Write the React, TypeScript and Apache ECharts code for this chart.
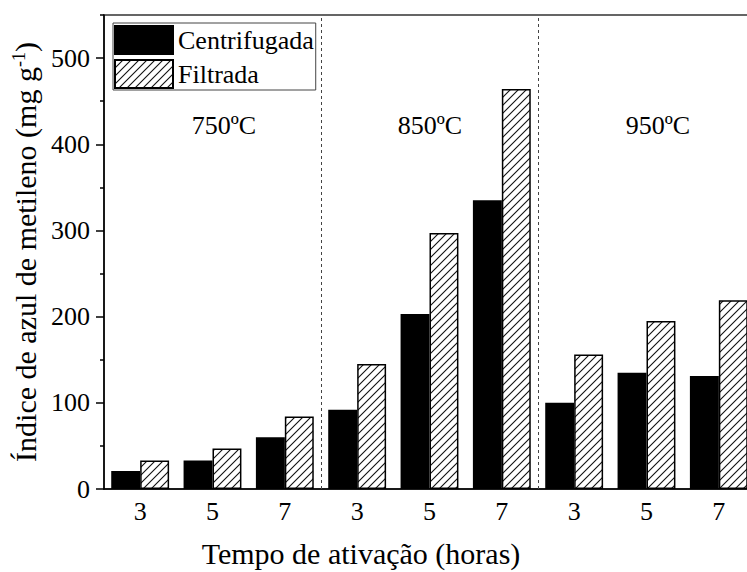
import React, { useEffect, useRef } from "react";
import * as echarts from "echarts";

// Activation time (hours) for each temperature group
const categories = ["3", "5", "7", "3", "5", "7", "3", "5", "7"];
const temperatures = ["750ºC", "850ºC", "950ºC"];
const centrifugada = [21, 33, 60, 92, 203, 335, 100, 135, 131];
const filtrada = [33, 47, 84, 145, 297, 464, 156, 195, 219];
const yMajor = [0, 100, 200, 300, 400, 500];
const yMinor = [50, 150, 250, 350, 450, 550];
const groupBounds = [3, 6];

const SERIF = "'Liberation Serif', 'Times New Roman', serif";

function makeHatch(): HTMLCanvasElement {
  const s = 8;
  const c = document.createElement("canvas");
  c.width = s;
  c.height = s;
  const ctx = c.getContext("2d")!;
  ctx.fillStyle = "#fff";
  ctx.fillRect(0, 0, s, s);
  ctx.strokeStyle = "#111";
  ctx.lineWidth = 1.1;
  ctx.beginPath();
  ctx.moveTo(-1, s + 1);
  ctx.lineTo(s + 1, -1);
  ctx.moveTo(-2, 2);
  ctx.lineTo(2, -2);
  ctx.moveTo(s - 2, s + 2);
  ctx.lineTo(s + 2, s - 2);
  ctx.stroke();
  return c;
}

export default function App() {
  const ref = useRef<HTMLDivElement>(null);

  useEffect(() => {
    if (!ref.current) return;
    const chart = echarts.init(ref.current, undefined, { renderer: "svg" });
    const hatch = { image: makeHatch(), repeat: "repeat" };
    const gridLeft = 104;
    const gridTop = 15;
    const gridWidth = 651;
    const gridBottom = 83;

    const tempLabelX = [224, 430, 658];

    chart.setOption({
      animation: false,
      backgroundColor: "#fff",
      textStyle: { fontFamily: SERIF },
      grid: {
        left: gridLeft,
        top: gridTop,
        width: gridWidth,
        bottom: gridBottom,
        show: true,
        borderColor: "#333",
        borderWidth: 1.5,
        backgroundColor: "transparent",
      },
      legend: {
        orient: "vertical",
        left: 113,
        top: 23,
        data: ["Centrifugada", "Filtrada"],
        itemWidth: 58,
        itemHeight: 28,
        itemGap: 4,
        padding: [2, 2, 1, 1],
        borderColor: "#444",
        borderWidth: 1,
        icon: "rect",
        textStyle: { fontFamily: SERIF, fontSize: 26, color: "#000", padding: [0, 0, 0, 0] },
      },
      xAxis: [
        {
          type: "category",
          data: categories,
          axisLine: { lineStyle: { color: "#000", width: 1.5 } },
          axisTick: { alignWithLabel: true, length: 9, lineStyle: { color: "#000", width: 1.5 } },
          axisLabel: { fontFamily: SERIF, fontSize: 26, color: "#000", margin: 9 },
          splitLine: { show: false },
        },
        {
          type: "category",
          data: categories,
          position: "bottom",
          axisLine: { show: false },
          axisTick: { alignWithLabel: false, length: 5, lineStyle: { color: "#000", width: 1.5 } },
          axisLabel: { show: false },
          splitLine: { show: false },
        },
        {
          type: "value",
          min: 0,
          max: 9,
          show: false,
        },
      ],
      yAxis: [
        {
          type: "value",
          min: 0,
          max: 550,
          interval: 100,
          name: "Índice de azul de metileno (mg g{sup|-1})",
          nameLocation: "middle",
          nameGap: 57,
          nameTextStyle: {
            fontFamily: SERIF,
            fontSize: 30,
            color: "#000",
            rich: {
              sup: { fontFamily: SERIF, fontSize: 18, color: "#000", verticalAlign: "top", lineHeight: 30 },
            },
          },
          axisLine: { show: true, lineStyle: { color: "#000", width: 1.5 } },
          axisTick: { show: true, length: 8, customValues: yMajor, lineStyle: { color: "#000", width: 1.5 } },
          axisLabel: { fontFamily: SERIF, fontSize: 26, color: "#000", margin: 14, customValues: yMajor },
          splitLine: { show: false },
        },
        {
          type: "value",
          min: 0,
          max: 550,
          interval: 50,
          position: "left",
          axisLine: { show: false },
          axisTick: { show: true, length: 4, customValues: yMinor, lineStyle: { color: "#000", width: 1.5 } },
          axisLabel: { show: false },
          splitLine: { show: false },
        },
      ],
      series: [
        {
          name: "Centrifugada",
          type: "bar",
          xAxisIndex: 0,
          yAxisIndex: 0,
          data: centrifugada,
          barGap: "0%",
          barCategoryGap: "20%",
          itemStyle: { color: "#000", borderColor: "#000", borderWidth: 1.5 },
        },
        {
          name: "Filtrada",
          type: "bar",
          xAxisIndex: 0,
          yAxisIndex: 0,
          data: filtrada,
          barGap: "0%",
          barCategoryGap: "20%",
          itemStyle: { color: hatch, borderColor: "#000", borderWidth: 1.5 },
        },
        {
          name: "separadores",
          type: "line",
          xAxisIndex: 2,
          yAxisIndex: 0,
          data: [],
          silent: true,
          markLine: {
            silent: true,
            symbol: "none",
            label: { show: false },
            lineStyle: { color: "#444", width: 1, type: [3, 3] },
            data: groupBounds.map((v) => ({ xAxis: v })),
          },
        },
      ],
      graphic: [
        ...temperatures.map((t, i) => ({
          type: "text",
          x: tempLabelX[i],
          y: 125,
          style: {
            text: t,
            fontFamily: SERIF,
            fontSize: 26,
            fill: "#000",
            textAlign: "center",
            textVerticalAlign: "middle",
          },
        })),
        {
          type: "text",
          x: 361,
          y: 553,
          style: {
            text: "Tempo de ativação (horas)",
            fontFamily: SERIF,
            fontSize: 30,
            fill: "#000",
            textAlign: "center",
            textVerticalAlign: "middle",
          },
        },
      ],
    });

    return () => {
      chart.dispose();
    };
  }, []);

  return (
    <div style={{ position: "absolute", left: 0, top: 0, width: 747, height: 572, overflow: "hidden" }}>
      <div ref={ref} style={{ width: 760, height: 572 }} />
    </div>
  );
}
